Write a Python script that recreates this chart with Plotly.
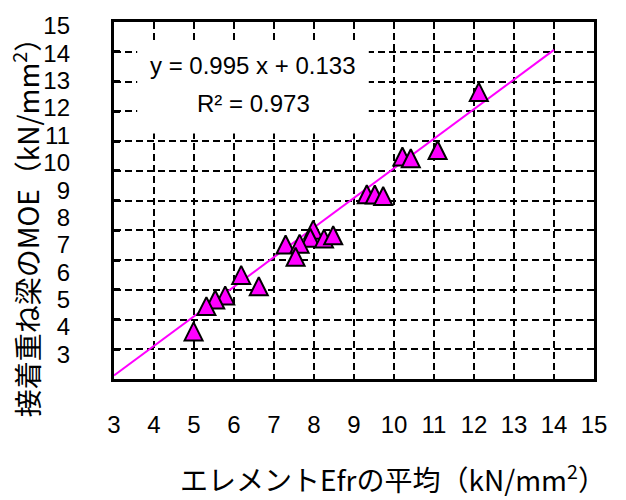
import plotly.graph_objects as go

# Mean element Efr (kN/mm2) vs. MOE of glued laminated beam (kN/mm2)
efr_mean = [12.12, 11.09, 10.21, 10.42, 9.32, 9.52, 9.73, 7.98, 7.91, 7.29,
            7.64, 7.54, 8.25, 8.48, 6.18, 6.62, 5.78, 5.53, 5.31, 4.99]
beam_moe = [12.65, 10.70, 10.48, 10.42, 9.21, 9.20, 9.15, 8.02, 7.75, 7.52,
            7.55, 7.11, 7.72, 7.83, 6.50, 6.12, 5.81, 5.67, 5.45, 4.60]

# Linear fit shown on the chart
slope = 0.995
intercept = 0.133
r_squared = 0.973
fit_x = [3, 14]
fit_y = [slope * v + intercept for v in fit_x]

tick_vals = list(range(3, 16))
tick_text = [str(v) for v in tick_vals]

MAGENTA = "#FF00FF"
NUM_FONT = "Liberation Sans, Arial, sans-serif"
JP_FONT = "Noto Sans CJK JP, sans-serif"

MARKER_SIZE = 18

fig = go.Figure()

fig.add_trace(go.Scatter(
    x=fit_x, y=fit_y, mode="lines",
    line=dict(color=MAGENTA, width=2),
    showlegend=False, hoverinfo="skip",
))

# equilateral-looking triangles: a flipped arrow glyph pulled back by half its
# height so that it sits centred on each data point
fig.add_trace(go.Scatter(
    x=efr_mean, y=beam_moe, mode="markers",
    marker=dict(symbol="arrow-down", angle=180, size=MARKER_SIZE,
                standoff=MARKER_SIZE / 2, color=MAGENTA,
                line=dict(color="black", width=2)),
    showlegend=False,
))

# carrier trace for the labelled left axis
fig.add_trace(go.Scatter(x=[None], y=[None], yaxis="y2",
                         showlegend=False, hoverinfo="skip"))

grid = dict(showgrid=True, gridcolor="black", gridwidth=2, griddash="7px,4px",
            zeroline=False, showline=True, linecolor="black", linewidth=2.5,
            mirror=True)

fig.update_layout(
    width=626, height=500, autosize=False,
    margin=dict(l=114, r=32, t=17, b=121),
    paper_bgcolor="white", plot_bgcolor="white",
    xaxis=dict(range=[3, 15], tickvals=tick_vals, ticktext=tick_text,
               tickfont=dict(family=NUM_FONT, size=24, color="black"),
               ticks="", ticklabelstandoff=22, **grid),
    yaxis=dict(range=[3, 15], tickvals=tick_vals, showticklabels=False,
               ticks="inside", ticklen=6, tickwidth=2.5, tickcolor="black",
               **grid),
    yaxis2=dict(overlaying="y", side="left", range=[2.099, 15.144],
                tickvals=tick_vals, ticktext=tick_text,
                tickfont=dict(family=NUM_FONT, size=24, color="black"),
                showgrid=False, zeroline=False, showline=False, ticks="",
                ticklabelstandoff=43),
)

# white backing for the regression equation
fig.add_shape(type="rect", xref="x", yref="y", x0=3.58, x1=9.37, y0=11.25, y1=14.37,
              fillcolor="white", line=dict(width=0), layer="above")

fig.add_annotation(text=f"y = {slope:.3f} x + {intercept:.3f}", xref="x", yref="y",
                   x=6.48, y=13.53, showarrow=False,
                   font=dict(family=NUM_FONT, size=24, color="black"))
fig.add_annotation(text=f"R² = {r_squared:.3f}", xref="x", yref="y",
                   x=6.48, y=12.25, showarrow=False,
                   font=dict(family=NUM_FONT, size=24, color="black"))

# axis titles
fig.add_annotation(text="接着重ね梁のMOE（kN/mm<sup>2</sup>）", textangle=-90,
                   xref="paper", yref="paper", x=-0.1854, y=0.442,
                   xanchor="center", yanchor="middle", showarrow=False,
                   font=dict(family=JP_FONT, size=28, color="black"))
fig.add_annotation(text="エレメントEfrの平均（kN/mm<sup>2</sup>）",
                   xref="paper", yref="paper", x=0.581, y=-0.276,
                   xanchor="center", yanchor="middle", showarrow=False,
                   font=dict(family=JP_FONT, size=28, color="black"))

fig.write_html("out.html")
